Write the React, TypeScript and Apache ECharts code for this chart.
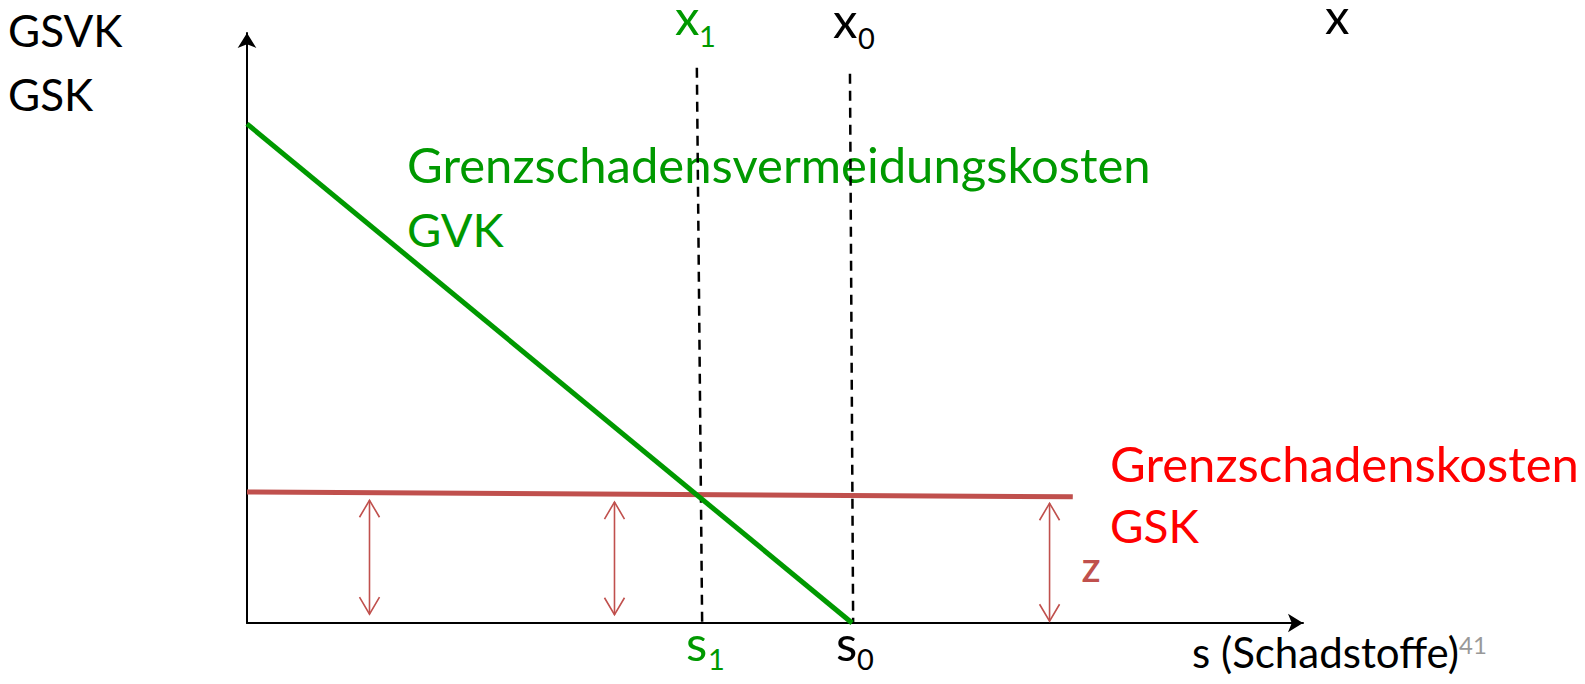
import React, { useEffect, useRef } from "react";
import * as echarts from "echarts";

// Curves (value space: x 0..100, y 0..100)
const gvkLine = [[0, 84.6], [57.3, 0]];
const gskLine = [[0, 22.2], [78.2, 21.4]];
const x1Line = [[42.6, 94.1], [43.1, 0]];
const x0Line = [[57.1, 93.1], [57.4, 0]];
// double arrows: [x, yBottom, yTop]
const zArrows = [[11.6, 1.5, 20.8], [34.8, 1.4, 20.5], [76.0, 0.3, 20.3]];

const GREEN = "#009900";
const RED_LINE = "#C0504D";
const RED_TEXT = "#FF0000";
const FONT = "Lato";

function label(
  text: string,
  x: number,
  baseline: number,
  size: number,
  color: string,
  weight = "normal",
  lineHeight?: number
) {
  return {
    type: "text",
    silent: true,
    style: {
      text,
      x,
      y: baseline - 0.387 * size,
      font: `${weight} ${size}px ${FONT}`,
      fill: color,
      align: "left",
      verticalAlign: "middle",
      lineHeight: lineHeight ?? size,
    },
  };
}

export default function App() {
  const ref = useRef<HTMLDivElement>(null);
  useEffect(() => {
    if (!ref.current) return;
    const chart = echarts.init(ref.current, undefined, { renderer: "svg" });
    const axisCommon = {
      type: "value",
      min: 0,
      max: 100,
      axisLine: {
        show: true,
        onZero: false,
        symbol: ["none", "arrow"],
        symbolSize: [14, 15],
        lineStyle: { color: "#000", width: 2 },
      },
      axisTick: { show: false },
      axisLabel: { show: false },
      splitLine: { show: false },
    };
    chart.setOption({
      animation: false,
      grid: { left: 247, right: 282, top: 33, bottom: 61 },
      xAxis: { ...axisCommon },
      yAxis: { ...axisCommon },
      series: [
        {
          type: "line",
          data: x1Line,
          symbol: "none",
          clip: false,
          lineStyle: { color: "#000", width: 2.5, type: [10, 7] },
        },
        {
          type: "line",
          data: x0Line,
          symbol: "none",
          clip: false,
          lineStyle: { color: "#000", width: 2.5, type: [10, 7] },
        },
        {
          type: "line",
          data: gskLine,
          symbol: "none",
          clip: false,
          lineStyle: { color: RED_LINE, width: 5 },
        },
        {
          type: "line",
          data: gvkLine,
          symbol: "none",
          clip: false,
          lineStyle: { color: GREEN, width: 5 },
        },
        {
          type: "custom",
          data: zArrows,
          clip: false,
          encode: { x: 0, y: [1, 2] },
          renderItem: (params: any, api: any) => {
            const x = api.value(0);
            const top = api.coord([x, api.value(2)]);
            const bot = api.coord([x, api.value(1)]);
            const w = 10;
            const h = 17;
            const st = { stroke: RED_LINE, lineWidth: 1.6, fill: "none" };
            return {
              type: "group",
              children: [
                { type: "line", shape: { x1: top[0], y1: top[1], x2: bot[0], y2: bot[1] }, style: st },
                {
                  type: "polyline",
                  shape: { points: [[top[0] - w, top[1] + h], [top[0], top[1]], [top[0] + w, top[1] + h]] },
                  style: st,
                },
                {
                  type: "polyline",
                  shape: { points: [[bot[0] - w, bot[1] - h], [bot[0], bot[1]], [bot[0] + w, bot[1] - h]] },
                  style: st,
                },
              ],
            };
          },
        },
      ],
      graphic: [
        label("GSVK", 8, 47, 44, "#000"),
        label("GSK", 8, 111, 44, "#000"),
        label("x", 675, 35, 49, GREEN, "normal", 28),
        label("1", 699, 47, 29, GREEN),
        label("x", 833, 38, 49, "#000", "normal", 28),
        label("0", 858, 49, 29, "#000"),
        label("x", 1325, 34, 49, "#000", "normal", 28),
        label("s", 686, 661, 49, GREEN),
        label("1", 708, 670, 29, GREEN),
        label("s", 836, 661, 49, "#000"),
        label("0", 857, 670, 29, "#000"),
        label("s (Schadstoffe)", 1192, 668, 42, "#000"),
        label("41", 1459, 654, 24, "#999999"),
        label("Grenzschadensvermeidungskosten", 407, 183, 49, GREEN),
        label("GVK", 407, 247, 47, GREEN),
        label("Grenzschadenskosten", 1110, 482, 49, RED_TEXT),
        label("GSK", 1110, 543, 46, RED_TEXT),
        label("Z", 1082, 582, 30, RED_LINE, "bold"),
      ],
    });
    return () => chart.dispose();
  }, []);
  return (
    <div
      ref={ref}
      style={{ position: "fixed", left: 0, top: 0, width: 1585, height: 684, background: "#fff" }}
    />
  );
}
